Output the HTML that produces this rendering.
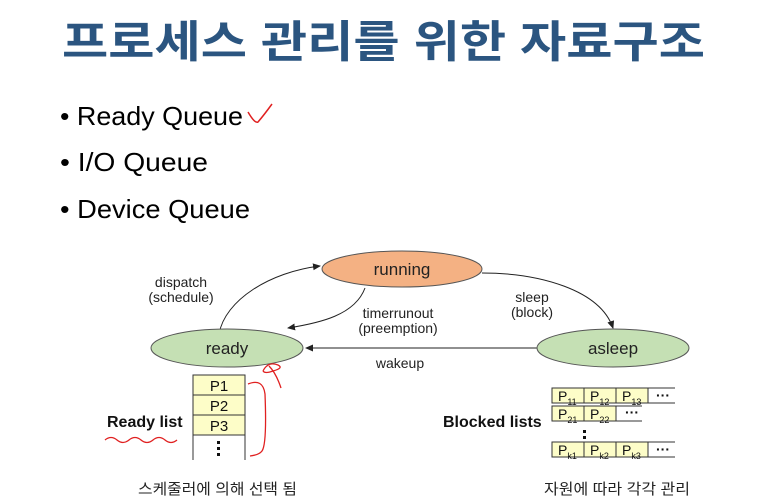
<!DOCTYPE html>
<html><head><meta charset="utf-8"><style>
html,body{margin:0;padding:0;background:#fff;}
svg{display:block;}
text{font-family:"Liberation Sans","Noto Sans CJK KR",sans-serif;}
</style></head><body>
<svg width="760" height="499" viewBox="0 0 760 499" xmlns="http://www.w3.org/2000/svg">
<defs>
<marker id="a" markerWidth="8" markerHeight="8" refX="7" refY="4" orient="auto" markerUnits="userSpaceOnUse">
<path d="M0,0.5 L8,4 L0,7.5 z" fill="#222"/></marker>
</defs>
<text x="62" y="57" font-size="44" font-weight="bold" fill="#2b5580" textLength="643" lengthAdjust="spacingAndGlyphs">프로세스 관리를 위한 자료구조</text>
<g font-size="26" fill="#000">
<text x="60" y="125" textLength="183" lengthAdjust="spacingAndGlyphs">• Ready Queue</text>
<text x="60" y="171" textLength="148" lengthAdjust="spacingAndGlyphs">• I/O Queue</text>
<text x="60" y="218" textLength="190" lengthAdjust="spacingAndGlyphs">• Device Queue</text>
</g>
<path d="M248,112 Q255,124 258,122 Q264,115 272,104" stroke="#e02020" stroke-width="1.5" fill="none"/>

<path d="M219,334 C225,300 270,272 320,266" stroke="#222" fill="none" marker-end="url(#a)"/>
<path d="M365,288 C355,315 320,323 288,328" stroke="#222" fill="none" marker-end="url(#a)"/>
<path d="M482,273 C540,273 600,290 613,328" stroke="#222" fill="none" marker-end="url(#a)"/>
<path d="M537,348 L306,348" stroke="#222" fill="none" marker-end="url(#a)"/>

<ellipse cx="402" cy="269" rx="80" ry="18" fill="#f4b183" stroke="#555"/>
<ellipse cx="227" cy="348" rx="76" ry="19" fill="#c5e0b4" stroke="#555"/>
<ellipse cx="613" cy="348" rx="76" ry="19" fill="#c5e0b4" stroke="#555"/>
<g font-size="17" fill="#222" text-anchor="middle">
<text x="402" y="275">running</text>
<text x="227" y="354">ready</text>
<text x="613" y="354">asleep</text>
</g>
<g font-size="14" fill="#222" text-anchor="middle">
<text x="181" y="287">dispatch</text>
<text x="181" y="302">(schedule)</text>
<text x="398" y="318">timerrunout</text>
<text x="398" y="333">(preemption)</text>
<text x="532" y="302">sleep</text>
<text x="532" y="317">(block)</text>
<text x="400" y="368">wakeup</text>
</g>

<g stroke="#333" fill="#fdfdc8">
<rect x="193" y="375" width="52" height="20"/>
<rect x="193" y="395" width="52" height="20"/>
<rect x="193" y="415" width="52" height="20"/>
</g>
<path d="M193,435 V460 M245,435 V460" stroke="#333"/>
<g font-size="15" fill="#111" text-anchor="middle">
<text x="219" y="391">P1</text><text x="219" y="411">P2</text><text x="219" y="431">P3</text>
</g>
<g fill="#111"><rect x="217" y="441" width="3" height="3"/><rect x="217" y="447" width="3" height="3"/><rect x="217" y="453" width="3" height="3"/></g>
<text x="107" y="427" font-size="16" font-weight="bold" fill="#111">Ready list</text>
<path d="M105,440 q6,-5 12,0 t12,0 t12,0 t12,0 t12,0 t12,0" stroke="#e02020" stroke-width="1.3" fill="none"/>
<path d="M248,384 q15,-6 17,10 q2,50 -3,57 q-3,4 -12,5" stroke="#e02020" stroke-width="1.3" fill="none"/>
<path d="M281,388 q-5,-15 -12,-22 M263,371 q5,-10 15,-6 q6,3 -5,6 q-8,3 -10,0" stroke="#e02020" stroke-width="1.3" fill="none"/>

<g stroke="#333" fill="#fdfdc8">
<rect x="552" y="388" width="32" height="15"/><rect x="584" y="388" width="32" height="15"/><rect x="616" y="388" width="32" height="15"/>
<rect x="552" y="406" width="32" height="15"/><rect x="584" y="406" width="32" height="15"/>
<rect x="552" y="442" width="32" height="15"/><rect x="584" y="442" width="32" height="15"/><rect x="616" y="442" width="32" height="15"/>
</g>
<path d="M648,388 H675 M648,403 H675 M616,406 H642 M616,421 H642 M648,442 H675 M648,457 H675" stroke="#333"/>
<g font-size="14" fill="#111">
<text x="558" y="401">P<tspan font-size="9" dy="4">11</tspan></text>
<text x="590" y="401">P<tspan font-size="9" dy="4">12</tspan></text>
<text x="622" y="401">P<tspan font-size="9" dy="4">13</tspan></text>
<text x="558" y="419">P<tspan font-size="9" dy="4">21</tspan></text>
<text x="590" y="419">P<tspan font-size="9" dy="4">22</tspan></text>
<text x="558" y="455">P<tspan font-size="9" dy="4">k1</tspan></text>
<text x="590" y="455">P<tspan font-size="9" dy="4">k2</tspan></text>
<text x="622" y="455">P<tspan font-size="9" dy="4">k3</tspan></text>
<text x="656" y="400" font-weight="bold">···</text>
<text x="625" y="417" font-weight="bold">···</text>
<text x="656" y="454" font-weight="bold">···</text>
</g>
<g fill="#111"><rect x="583" y="430" width="3" height="3"/><rect x="583" y="436" width="3" height="3"/></g>
<text x="443" y="427" font-size="16" font-weight="bold" fill="#111">Blocked lists</text>

<g font-size="15" fill="#222">
<text x="138" y="494" textLength="159" lengthAdjust="spacingAndGlyphs">스케줄러에 의해 선택 됨</text>
<text x="544" y="494" textLength="146" lengthAdjust="spacingAndGlyphs">자원에 따라 각각 관리</text>
</g>
</svg>
</body></html>
